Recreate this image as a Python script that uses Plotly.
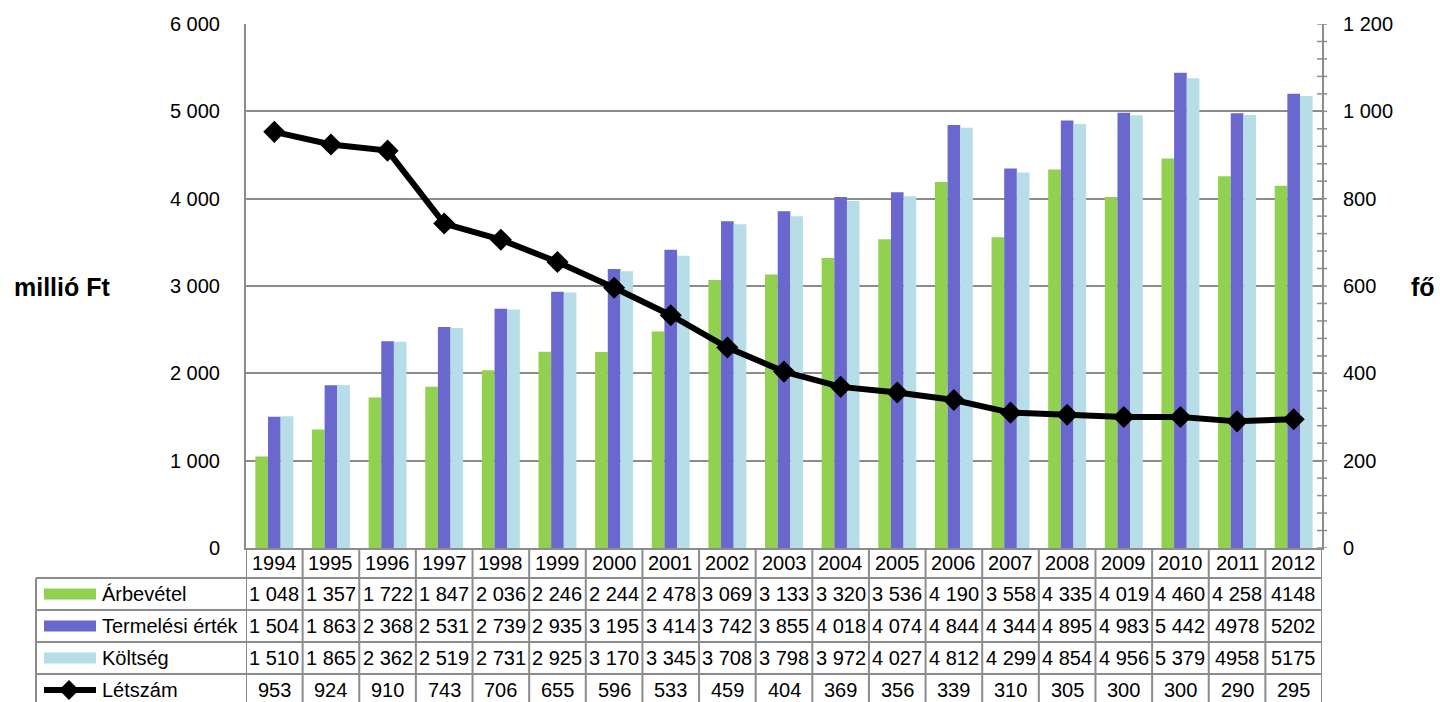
import plotly.graph_objects as go

# ---------------- data ----------------
years = list(range(1994, 2013))
arbevetel = [1048, 1357, 1722, 1847, 2036, 2246, 2244, 2478, 3069, 3133, 3320, 3536, 4190, 3558, 4335, 4019, 4460, 4258, 4148]
termelesi = [1504, 1863, 2368, 2531, 2739, 2935, 3195, 3414, 3742, 3855, 4018, 4074, 4844, 4344, 4895, 4983, 5442, 4978, 5202]
koltseg = [1510, 1865, 2362, 2519, 2731, 2925, 3170, 3345, 3708, 3798, 3972, 4027, 4812, 4299, 4854, 4956, 5379, 4958, 5175]
letszam = [953, 924, 910, 743, 706, 655, 596, 533, 459, 404, 369, 356, 339, 310, 305, 300, 300, 290, 295]

series_names = ["Árbevétel", "Termelési érték", "Költség", "Létszám"]
# in the source table these years are printed without a thousands separator
plain_from = {"Árbevétel": 2012, "Termelési érték": 2011, "Költség": 2011, "Létszám": 9999}

left_title = "millió Ft"
right_title = "fő"

# ---------------- style ----------------
GREEN = "#92D050"
PURPLE = "#6A67CE"
CYAN = "#B7DEE8"
GRID = "#8C8C8C"
FONT = "Liberation Sans, Arial, sans-serif"

FIG_W, FIG_H = 1440, 702
L, R, T, B = 246, 1322, 24, 548
PW, PH = R - L, B - T


def px_x(x):
    return (x - L) / PW


def px_y(y):
    return (B - y) / PH


def fmt(v, name, year):
    if year >= plain_from[name]:
        return str(v)
    return f"{v:,}".replace(",", " ")


fig = go.Figure()
fig.add_trace(go.Bar(x=years, y=arbevetel, name="Árbevétel", marker=dict(color=GREEN, line=dict(width=0))))
fig.add_trace(go.Bar(x=years, y=termelesi, name="Termelési érték", marker=dict(color=PURPLE, line=dict(width=0))))
fig.add_trace(go.Bar(x=years, y=koltseg, name="Költség", marker=dict(color=CYAN, line=dict(width=0))))
fig.add_trace(go.Scatter(x=years, y=letszam, name="Létszám", yaxis="y2", mode="lines+markers",
                         line=dict(color="black", width=6),
                         marker=dict(symbol="diamond", size=17, color="black")))

shapes = []
annotations = []

# ---- data table ----
row_edges = [548, 578, 610, 642, 674, 706]
row_vals = [arbevetel, termelesi, koltseg, letszam]
line_style = dict(color=GRID, width=2)

# horizontal lines
for y in row_edges[1:]:
    shapes.append(dict(type="line", xref="paper", yref="paper", x0=px_x(36), x1=px_x(R),
                       y0=px_y(y), y1=px_y(y), line=line_style, layer="above"))
# outer left border
shapes.append(dict(type="line", xref="paper", yref="paper", x0=px_x(36), x1=px_x(36),
                   y0=px_y(row_edges[1]), y1=px_y(row_edges[-1]), line=line_style))
# column separators
for i in range(len(years) + 1):
    xv = years[0] - 0.5 + i
    shapes.append(dict(type="line", xref="x", yref="paper", x0=xv, x1=xv,
                       y0=px_y(row_edges[0]), y1=px_y(row_edges[-1]), line=line_style))

# year row
yc = (row_edges[0] + row_edges[1]) / 2
for yr in years:
    annotations.append(dict(x=yr, y=px_y(yc), xref="x", yref="paper", text=str(yr), showarrow=False,
                            xanchor="center", yanchor="middle", font=dict(size=20, color="black", family=FONT)))

# value rows
for r, (name, vals) in enumerate(zip(series_names, row_vals)):
    yc = (row_edges[r + 1] + row_edges[r + 2]) / 2
    annotations.append(dict(x=px_x(100), y=px_y(yc), xref="paper", yref="paper", text=name, showarrow=False,
                            xanchor="left", yanchor="middle", font=dict(size=20, color="black", family=FONT)))
    for yr, v in zip(years, vals):
        annotations.append(dict(x=yr, y=px_y(yc), xref="x", yref="paper", text=fmt(v, name, yr),
                                showarrow=False, xanchor="center", yanchor="middle",
                                font=dict(size=20, color="black", family=FONT)))
    # legend key
    if r < 3:
        col = [GREEN, PURPLE, CYAN][r]
        shapes.append(dict(type="rect", xref="paper", yref="paper", x0=px_x(44), x1=px_x(96),
                           y0=px_y(yc - 5.5), y1=px_y(yc + 5.5), fillcolor=col, line=dict(width=0)))
    else:
        shapes.append(dict(type="line", xref="paper", yref="paper", x0=px_x(44), x1=px_x(96),
                           y0=px_y(yc), y1=px_y(yc), line=dict(color="black", width=6)))
        cx, cy, h = 69, yc, 10
        path = (f"M {px_x(cx - h)} {px_y(cy)} L {px_x(cx)} {px_y(cy - h)} "
                f"L {px_x(cx + h)} {px_y(cy)} L {px_x(cx)} {px_y(cy + h)} Z")
        shapes.append(dict(type="path", xref="paper", yref="paper", path=path,
                           fillcolor="black", line=dict(width=0)))

# cross tick marks on the secondary axis
for v in range(0, 1201, 40):
    shapes.append(dict(type="line", xref="paper", yref="y2", x0=px_x(R - 5), x1=px_x(R + 5),
                       y0=v, y1=v, line=dict(color=GRID, width=1.5)))

# axis titles
annotations.append(dict(x=px_x(62), y=px_y(287), xref="paper", yref="paper", text=f"<b>{left_title}</b>",
                        showarrow=False, xanchor="center", yanchor="middle",
                        font=dict(size=25, color="black", family=FONT)))
annotations.append(dict(x=px_x(1423), y=px_y(287), xref="paper", yref="paper", text=f"<b>{right_title}</b>",
                        showarrow=False, xanchor="center", yanchor="middle",
                        font=dict(size=25, color="black", family=FONT)))

fig.update_layout(
    width=FIG_W, height=FIG_H,
    margin=dict(l=L, r=FIG_W - R, t=T, b=FIG_H - B, pad=0),
    paper_bgcolor="white", plot_bgcolor="white",
    separators=". ",
    barmode="group", bargap=0.33, bargroupgap=0,
    showlegend=False,
    font=dict(family=FONT, size=20, color="black"),
    xaxis=dict(range=[years[0] - 0.5, years[-1] + 0.5], showticklabels=False, ticks="",
               showgrid=False, zeroline=False, showline=True, linecolor=GRID, linewidth=2),
    yaxis=dict(range=[0, 6000], dtick=1000, tickformat=",d", showgrid=True, gridcolor=GRID, gridwidth=1.5,
               zeroline=False, showline=True, linecolor=GRID, linewidth=2, ticks="",
               ticklabelstandoff=20, tickfont=dict(size=20, family=FONT, color="black")),
    yaxis2=dict(range=[0, 1200], dtick=200, tickformat=",d", overlaying="y", side="right",
                showgrid=False, zeroline=False, showline=True, linecolor=GRID, linewidth=2, ticks="",
                ticklabelstandoff=15, tickfont=dict(size=20, family=FONT, color="black")),
    shapes=shapes,
    annotations=annotations,
)

fig.write_html("out.html", config={"displayModeBar": False},
               post_script="document.body.style.margin='0';")
